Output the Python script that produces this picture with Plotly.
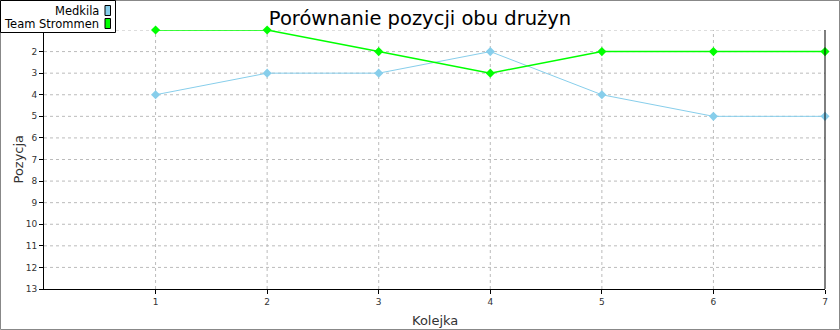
import plotly.graph_objects as go

rounds = [1, 2, 3, 4, 5, 6, 7]
series_names = ["Medkila", "Team Strommen"]
medkila = [4, 3, 3, 2, 4, 5, 5]
strommen = [1, 1, 2, 3, 2, 2, 2]
colors = ["#87CEEB", "#00FF00"]
y_ticks = list(range(1, 14))
y_ticktext = [""] + [str(v) for v in y_ticks[1:]]

W, H = 840, 330
L, R, T, B = 44, 15, 30, 41
pw, ph = W - L - R, H - T - B

def px(x):
    return (x - L) / pw

def py(y):
    return 1 - (y - T) / ph

fig = go.Figure()
for name, vals, col, lw in [(series_names[0], medkila, colors[0], 1),
                            (series_names[1], strommen, colors[1], 1.5)]:
    fig.add_trace(go.Scatter(x=rounds, y=vals, mode="lines+markers", name=name,
                             line=dict(color=col, width=lw),
                             marker=dict(symbol="diamond", size=7, color=col),
                             cliponaxis=False, showlegend=False))

font = "DejaVu Sans, Verdana, sans-serif"
fig.update_layout(
    width=W, height=H, margin=dict(l=L, r=R, t=T, b=B, autoexpand=False),
    paper_bgcolor="white", plot_bgcolor="white",
    title=dict(text="Porównanie pozycji obu drużyn", x=0.5, xanchor="center",
               y=1 - 18 / H, yanchor="middle", font=dict(family=font, size=19.5, color="black")),
    xaxis=dict(range=[0, 7], tickvals=rounds, ticktext=[str(r) for r in rounds],
               showgrid=False, zeroline=False, showline=True, linecolor="black", linewidth=1,
               ticks="outside", ticklen=4, tickcolor="black", automargin=False,
               tickfont=dict(family=font, size=9, color="#333")),
    yaxis=dict(range=[13, 1], tickvals=y_ticks, ticktext=y_ticktext, showgrid=False, zeroline=False,
               showline=True, linecolor="black", linewidth=1, automargin=False,
               ticks="outside", ticklen=4, tickcolor="black",
               tickfont=dict(family=font, size=9, color="#333")),
)

shapes = []
for v in y_ticks[:-1]:
    shapes.append(dict(type="line", xref="paper", yref="y", x0=0, x1=1, y0=v, y1=v,
                       line=dict(color="#BBBBBB", width=1, dash="dot"), layer="below"))
for r in rounds[:-1]:
    shapes.append(dict(type="line", xref="x", yref="paper", x0=r, x1=r, y0=0, y1=1,
                       line=dict(color="#BBBBBB", width=1, dash="dot"), layer="below"))
shapes.append(dict(type="line", xref="paper", yref="paper", x0=1, x1=1, y0=0, y1=1,
                   line=dict(color="black", width=1)))
shapes.append(dict(type="rect", xref="paper", yref="paper", x0=px(0.5), x1=px(W - 0.5),
                   y0=py(H - 0.5), y1=py(0.5), line=dict(color="#888888", width=1)))
shapes.append(dict(type="rect", xref="paper", yref="paper", x0=px(0.5), x1=px(115.5),
                   y0=py(32.5), y1=py(0.5), line=dict(color="black", width=1),
                   fillcolor="white"))
annotations = [
    dict(text="Kolejka", xref="paper", yref="paper", x=0.5, y=py(320), xanchor="center",
         yanchor="middle", showarrow=False, font=dict(family=font, size=13, color="#333")),
    dict(text="Pozycja", xref="paper", yref="paper", x=px(18), y=0.5, xanchor="center",
         yanchor="middle", textangle=-90, showarrow=False,
         font=dict(family=font, size=13, color="#333")),
]
for i, (name, col) in enumerate(zip(series_names, colors)):
    yc = 10.5 + i * 13
    shapes.append(dict(type="rect", xref="paper", yref="paper", x0=px(105), x1=px(110.5),
                       y0=py(yc + 5), y1=py(yc - 5), line=dict(color="black", width=1),
                       fillcolor=col))
    annotations.append(dict(text=name, xref="paper", yref="paper", x=px(101), y=py(yc + 0.5),
                            xanchor="right", yanchor="middle", showarrow=False,
                            font=dict(family=font, size=11.5, color="black")))
fig.update_layout(shapes=shapes, annotations=annotations)

fig.write_html("out.html")
